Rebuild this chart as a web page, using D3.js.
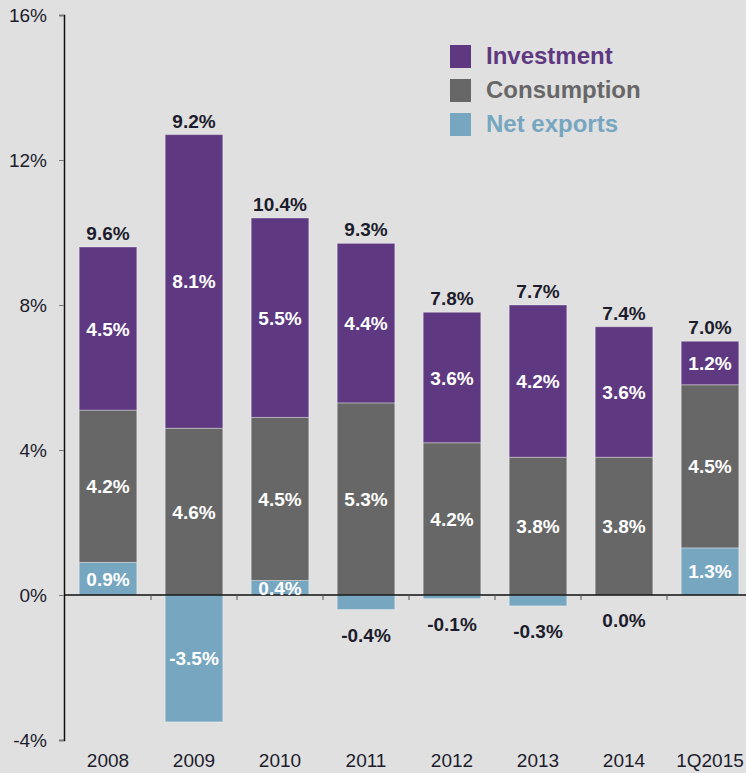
<!DOCTYPE html>
<html>
<head>
<meta charset="utf-8">
<script src="https://cdn.jsdelivr.net/npm/d3@7"></script>
<style>
  html, body { margin: 0; padding: 0; background: #e0e0e0; }
  svg { display: block; font-family: "Liberation Sans", Arial, sans-serif; }
</style>
</head>
<body>
<svg id="chart"></svg>
<script>
var categories = ["2008", "2009", "2010", "2011", "2012", "2013", "2014", "1Q2015"];
var investment = [4.5, 8.1, 5.5, 4.4, 3.6, 4.2, 3.6, 1.2];
var consumption = [4.2, 4.6, 4.5, 5.3, 4.2, 3.8, 3.8, 4.5];
var netExports = [0.9, -3.5, 0.4, -0.4, -0.1, -0.3, 0.0, 1.3];
var totals = [9.6, 9.2, 10.4, 9.3, 7.8, 7.7, 7.4, 7.0];
var yTicks = [-4, 0, 4, 8, 12, 16];

var seriesNames = ["Investment", "Consumption", "Net exports"];
var colors = { "Investment": "#5e3880", "Consumption": "#676767", "Net exports": "#76a6c0" };

var width = 746,
    height = 773;

var svg = d3.select("#chart")
    .attr("width", width)
    .attr("height", height);

var x = d3.scaleBand()
    .domain(categories)
    .range([65, 753])
    .paddingInner(0.33)
    .paddingOuter(0.165);

var y = d3.scaleLinear()
    .domain([-4, 16])
    .range([740, 15]);

function pct(v){ return v.toFixed(1) + "%"; }

// small negative (or zero) net exports get their label under the bar, in dark text
function outside(d){
    return d.series === "Net exports" && d.v <= 0 && d.v > -1;
}

// build the segments: net exports from zero, consumption on top of positive exports, investment on top
var segments = [];
categories.forEach(function(c, i){
    var ne = netExports[i];
    var base = Math.max(0, ne);
    segments.push({ cat: c, series: "Net exports", v: ne, y0: Math.min(0, ne), y1: Math.max(0, ne) });
    segments.push({ cat: c, series: "Consumption", v: consumption[i], y0: base, y1: base + consumption[i] });
    segments.push({ cat: c, series: "Investment", v: investment[i], y0: base + consumption[i], y1: base + consumption[i] + investment[i] });
});

svg.append("g")
    .selectAll("rect")
    .data(segments.filter(function(d){ return d.y1 > d.y0; }))
    .join("rect")
    .attr("x", function(d){ return x(d.cat); })
    .attr("width", x.bandwidth())
    .attr("y", function(d){ return y(d.y1); })
    .attr("height", function(d){ return y(d.y0) - y(d.y1); })
    .attr("fill", function(d){ return colors[d.series]; })
    .attr("stroke", "rgba(255,255,255,0.35)")
    .attr("stroke-width", 1);

// y axis
var yAxis = svg.append("g")
    .attr("transform", "translate(64,0)")
    .call(d3.axisLeft(y).tickValues(yTicks).tickSize(5).tickPadding(12).tickFormat(function(d){ return d + "%"; }));
yAxis.select(".domain").attr("stroke", "#111").attr("stroke-width", 1.5);
yAxis.selectAll(".tick line").attr("stroke", "#777");
yAxis.selectAll(".tick text")
    .attr("font-size", 19)
    .attr("font-family", "Liberation Sans, Arial, sans-serif")
    .attr("fill", "#1c1c2c");

// x axis line at zero with ticks between categories
var boundaries = categories.slice(1).map(function(c){ return x(c) - x.step() * x.paddingInner() / 2; });
svg.append("line")
    .attr("x1", 64).attr("x2", width)
    .attr("y1", y(0)).attr("y2", y(0))
    .attr("stroke", "#111").attr("stroke-width", 1.5);
svg.append("g")
    .selectAll("line")
    .data(boundaries)
    .join("line")
    .attr("x1", function(d){ return d; })
    .attr("x2", function(d){ return d; })
    .attr("y1", y(0))
    .attr("y2", y(0) + 5)
    .attr("stroke", "#555");

// category labels
svg.append("g")
    .selectAll("text")
    .data(categories)
    .join("text")
    .attr("x", function(d){ return x(d) + x.bandwidth() / 2; })
    .attr("y", 767)
    .attr("text-anchor", "middle")
    .attr("font-size", 19)
    .attr("fill", "#1c1c2c")
    .text(function(d){ return d; });

// segment labels
svg.append("g")
    .selectAll("text")
    .data(segments)
    .join("text")
    .attr("x", function(d){ return x(d.cat) + x.bandwidth() / 2; })
    .attr("y", function(d){
        if(outside(d)){
            return y(d.y0) + 32;
        }
        return y((d.y0 + d.y1) / 2) + 7;
    })
    .attr("text-anchor", "middle")
    .attr("font-size", 19)
    .attr("font-weight", "bold")
    .attr("fill", function(d){ return outside(d) ? "#1c1c2c" : "#fff"; })
    .text(function(d){ return pct(d.v); });

// totals above bars
svg.append("g")
    .selectAll("text")
    .data(categories)
    .join("text")
    .attr("x", function(d){ return x(d) + x.bandwidth() / 2; })
    .attr("y", function(d, i){ return y(Math.max(0, netExports[i]) + consumption[i] + investment[i]) - 7; })
    .attr("text-anchor", "middle")
    .attr("font-size", 19)
    .attr("font-weight", "bold")
    .attr("fill", "#1c1c2c")
    .text(function(d, i){ return pct(totals[i]); });

// legend
var legend = svg.append("g")
    .selectAll("g")
    .data(seriesNames)
    .join("g")
    .attr("transform", function(d, i){ return "translate(450," + (45 + i * 34) + ")"; });
legend.append("rect")
    .attr("width", 21)
    .attr("height", 23)
    .attr("fill", function(d){ return colors[d]; });
legend.append("text")
    .attr("x", 36)
    .attr("y", 19)
    .attr("font-size", 24)
    .attr("font-weight", "bold")
    .attr("fill", function(d){ return colors[d]; })
    .text(function(d){ return d; });
</script>
</body>
</html>
